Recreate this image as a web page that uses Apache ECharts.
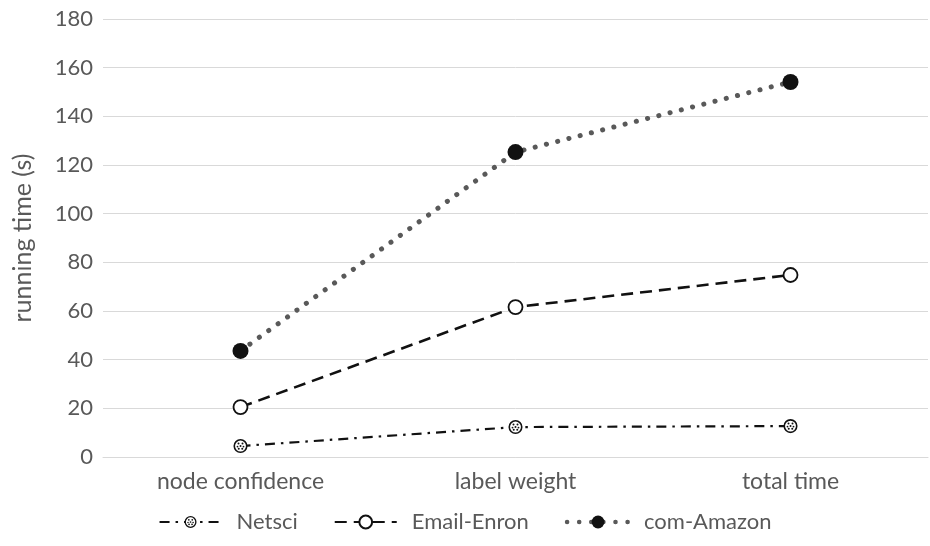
<!DOCTYPE html>
<html><head><meta charset="utf-8">
<script src="https://cdn.jsdelivr.net/npm/echarts@6/dist/echarts.min.js"></script>
<style>html,body{margin:0;padding:0;background:#fff}#c{width:930px;height:546px}</style>
</head><body><div id="c"></div>
<script>
const categories = ['node confidence', 'label weight', 'total time'];
const netsci = [4.5, 12.3, 12.7];
const emailEnron = [20.5, 61.6, 74.8];
const comAmazon = [43.6, 125.3, 154.1];
const yTicks = {min: 0, max: 180, interval: 20};

const netsciSvg = '<svg xmlns="http://www.w3.org/2000/svg" width="30" height="30" viewBox="0 0 30 30">' +
  '<circle cx="15" cy="15" r="12.5" fill="#fff" stroke="#111" stroke-width="3.2"/>' +
  '<g fill="#111"><circle cx="11" cy="10" r="2"/><circle cx="19" cy="10" r="2"/><circle cx="15" cy="15" r="2"/>' +
  '<circle cx="9" cy="16" r="1.8"/><circle cx="21" cy="16" r="1.8"/><circle cx="11.5" cy="20.5" r="2"/><circle cx="18.5" cy="20.5" r="2"/></g></svg>';
const netsciSymbol = 'image://data:image/svg+xml;base64,' + btoa(netsciSvg);

const font = 'Lato, "Open Sans", sans-serif';
const chart = echarts.init(document.getElementById('c'), null, {renderer: 'canvas'});
chart.setOption({
  animation: false,
  textStyle: {fontFamily: font},
  grid: {left: 103, right: 2, top: 19, bottom: 89},
  xAxis: {
    type: 'category', data: categories, boundaryGap: true,
    axisLine: {show: true, lineStyle: {color: '#d9d9d9', width: 1}},
    axisTick: {show: false},
    axisLabel: {color: '#595959', fontSize: 23, margin: 13, fontFamily: font}
  },
  yAxis: {
    type: 'value', min: yTicks.min, max: yTicks.max, interval: yTicks.interval,
    name: 'running time (s)', nameLocation: 'middle', nameGap: 68,
    nameTextStyle: {color: '#595959', fontSize: 25, fontFamily: font},
    axisLine: {show: false}, axisTick: {show: false},
    axisLabel: {color: '#595959', fontSize: 22, margin: 10, fontFamily: font},
    splitLine: {lineStyle: {color: '#d9d9d9', width: 1}}
  },
  legend: {
    bottom: 8, left: 'center', itemWidth: 62, itemHeight: 16, itemGap: 36,
    textStyle: {color: '#595959', fontSize: 22, fontFamily: font, padding: [0, 0, 0, 10]},
    data: [
      {name: 'Netsci'},
      {name: 'Email-Enron'},
      {name: 'com-Amazon', lineStyle: {width: 4.5, type: [0.1, 12], cap: 'round'}}
    ]
  },
  series: [
    {
      name: 'Netsci', type: 'line', data: netsci,
      symbol: netsciSymbol, symbolSize: 15,
      lineStyle: {color: '#111', width: 2.2, type: [10, 6, 2.5, 6]},
      itemStyle: {color: '#111'}, z: 3
    },
    {
      name: 'Email-Enron', type: 'line', data: emailEnron,
      symbol: 'circle', symbolSize: 14,
      lineStyle: {color: '#111', width: 2.6, type: [12, 7]},
      itemStyle: {color: '#fff', borderColor: '#111', borderWidth: 1.8}, z: 3
    },
    {
      name: 'com-Amazon', type: 'line', data: comAmazon,
      symbol: 'circle', symbolSize: 16,
      lineStyle: {color: '#595959', width: 5, type: [0.1, 11.5], cap: 'round'},
      itemStyle: {color: '#111', borderColor: '#111', borderWidth: 0}, z: 3
    }
  ]
});
</script></body></html>
